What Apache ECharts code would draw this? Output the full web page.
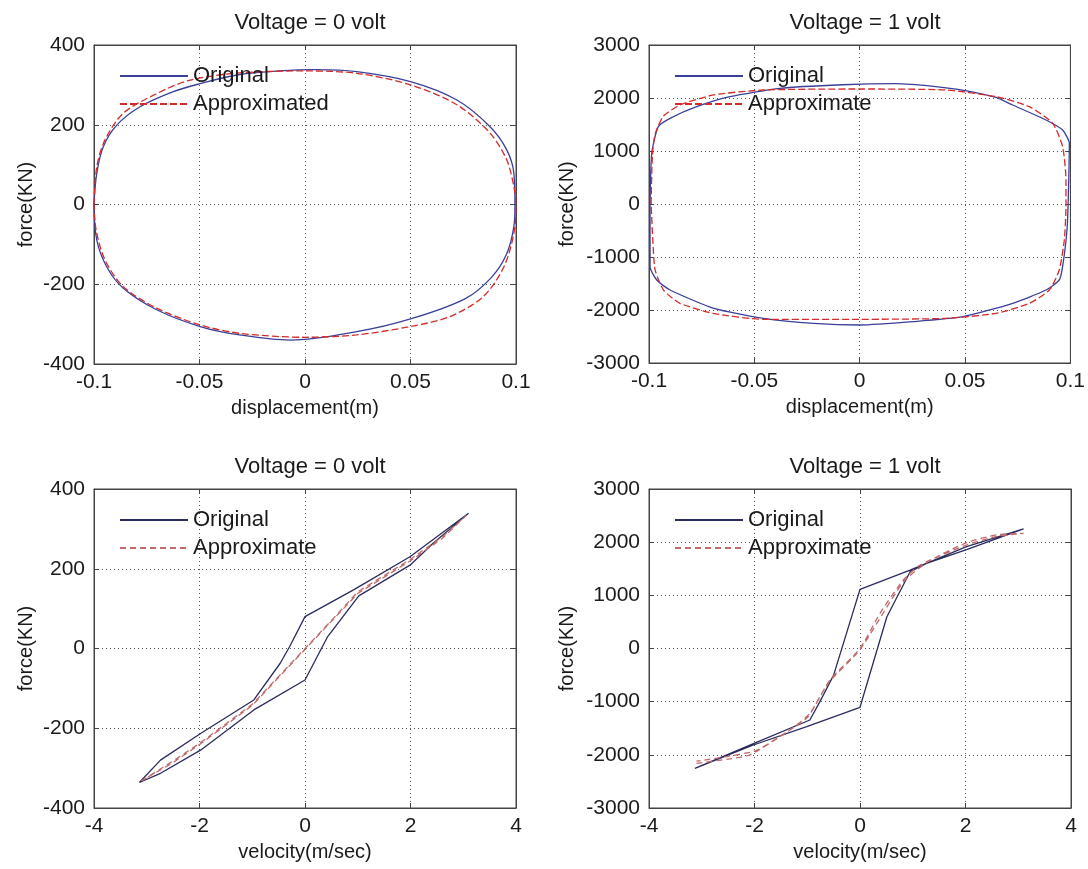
<!DOCTYPE html>
<html>
<head>
<meta charset="utf-8">
<title>Force loops, voltage 0 and 1</title>
<script src="https://cdn.jsdelivr.net/npm/echarts@6/dist/echarts.min.js"></script>
<style>
  html, body { margin: 0; padding: 0; background: #fff; }
  #chart { width: 1088px; height: 869px; }
</style>
</head>
<body>
<div id="chart"></div>
<script>
// force vs displacement, 0 volt  [x (m), force (KN)]
var dispOrig0 = [[-0.1,0],[-0.0987,78],[-0.0956,145],[-0.0892,199],[-0.0782,245],[-0.0624,283],[-0.0497,303],[-0.031,326],[-0.012,335],[0.005,338],[0.0245,333],[0.05,308],[0.072,262],[0.0877,195],[0.0956,137],[0.099,78],[0.0995,-5],[0.099,-55],[0.0955,-125],[0.0885,-182],[0.076,-236],[0.05,-287],[0.0245,-319],[-0.007,-340],[-0.031,-327],[-0.0497,-306],[-0.0703,-264],[-0.0861,-210],[-0.094,-156],[-0.0987,-89],[-0.1,0]];
var dispAppr0 = [[-0.1,0],[-0.0987,95],[-0.0948,162],[-0.0861,229],[-0.0703,278],[-0.0545,312],[-0.031,330],[0,335],[0.0245,329],[0.05,300],[0.072,250],[0.0877,179],[0.0956,112],[0.099,45],[0.1,0],[0.099,-72],[0.0943,-156],[0.0845,-231],[0.0687,-281],[0.05,-306],[0.0245,-327],[0,-333],[-0.031,-323],[-0.0497,-302],[-0.0703,-260],[-0.0861,-206],[-0.0948,-139],[-0.099,-64],[-0.1,0]];

// force vs displacement, 1 volt
var dispOrig1 = [[-0.0995,0],[-0.0987,957],[-0.0956,1459],[-0.09,1617],[-0.0774,1836],[-0.0616,2025],[-0.0379,2183],[-0.008,2250],[0.017,2270],[0.035,2220],[0.05,2140],[0.0647,2010],[0.0726,1868],[0.0884,1585],[0.0963,1396],[0.0995,1145],[0.0992,453],[0.0985,-428],[0.0963,-1183],[0.0947,-1434],[0.0884,-1623],[0.0726,-1874],[0.049,-2126],[0.0253,-2220],[0,-2283],[-0.0218,-2252],[-0.0455,-2157],[-0.0692,-1969],[-0.09,-1623],[-0.0963,-1434],[-0.0995,-1183],[-0.0995,0]];
var dispAppr1 = [[-0.099,0],[-0.0984,906],[-0.0971,1321],[-0.0931,1660],[-0.0853,1868],[-0.0695,2057],[-0.0458,2151],[0,2170],[0.041,2151],[0.0647,2025],[0.0805,1836],[0.0916,1522],[0.0963,1082],[0.0979,453],[0.0979,-50],[0.0971,-679],[0.0947,-1245],[0.09,-1623],[0.0805,-1874],[0.0647,-2063],[0.041,-2157],[0,-2176],[-0.0458,-2176],[-0.0695,-2063],[-0.0853,-1874],[-0.0931,-1623],[-0.0971,-1245],[-0.0982,-679],[-0.099,0]];

// force vs velocity, 0 volt  [v (m/sec), force (KN)]
var veloOrig0 = [[-3.14,-336],[-2.74,-280],[-1.98,-213],[-0.97,-129],[-0.47,-37],[-0.29,5],[0,80],[0.92,147],[1.99,230],[3.1,339],[2.43,264],[1.99,209],[1.02,132],[0.43,30],[0,-79],[-0.97,-154],[-1.98,-255],[-2.74,-313],[-3.14,-336]];
var veloAppr0 = [[-3.1,-332],[-2.5,-282],[-2,-238],[-1,-140],[-0.5,-70],[0,0],[0.5,70],[1,142],[2,224],[2.6,280],[3.05,333],[2.6,276],[2,220],[1,138],[0,-2],[-1,-143],[-2,-241],[-2.5,-286],[-3.1,-332]];

// force vs velocity, 1 volt
var veloOrig1 = [[-3.13,-2253],[-2.02,-1790],[-0.95,-1345],[-0.76,-1000],[-0.5,-500],[0,1113],[0.95,1476],[2.02,1915],[3.1,2250],[2.02,1860],[1.26,1602],[0.95,1445],[0.51,598],[0,-1106],[-1.01,-1471],[-2.02,-1815],[-3.13,-2253]];
var veloAppr1 = [[-3.1,-2159],[-2.5,-2080],[-2.09,-2003],[-1.33,-1533],[-0.95,-1219],[-0.57,-592],[0,0],[0.38,662],[0.82,1288],[1.14,1570],[2.02,1947],[2.6,2110],[3.1,2166],[2.6,2140],[2.02,1990],[1.3,1640],[0.82,1250],[0,-20],[-0.6,-650],[-1,-1300],[-1.5,-1640],[-2,-1930],[-3.1,-2120]];

var titles = ['Voltage = 0 volt', 'Voltage = 1 volt', 'Voltage = 0 volt', 'Voltage = 1 volt'];

var FONT = '"Liberation Sans", Arial, sans-serif';
var INK = '#1a1a1a';

// plot boxes, pixels
var boxes = [
  { left: 94,  top: 45,  width: 422, height: 319 },
  { left: 649, top: 45,  width: 422, height: 318 },
  { left: 94,  top: 489, width: 422, height: 319 },
  { left: 649, top: 489, width: 422, height: 319 }
];

var xRanges = [[-0.1, 0.1, 0.05], [-0.1, 0.1, 0.05], [-4, 4, 2], [-4, 4, 2]];
var yRanges = [[-400, 400, 200], [-3000, 3000, 1000], [-400, 400, 200], [-3000, 3000, 1000]];
var xNames = ['displacement(m)', 'displacement(m)', 'velocity(m/sec)', 'velocity(m/sec)'];
var yGaps = [58, 72, 58, 72];

function fmt(v) { return String(+(+v).toFixed(4)); }

var grids = [], xAxes = [], yAxes = [], titleList = [];
boxes.forEach(function (b, i) {
  grids.push({ left: b.left, top: b.top, width: b.width, height: b.height,
    show: true, borderColor: '#444', borderWidth: 1, backgroundColor: '#fff' });
  titleList.push({ text: titles[i], left: b.left + b.width / 2, top: b.top - 38, textAlign: 'center',
    textStyle: { fontFamily: FONT, fontSize: 22, fontWeight: 'normal', color: INK } });
});

// main axes first (index 0..3), mirror axes on top/right after (4..7)
boxes.forEach(function (b, i) {
  xAxes.push({ type: 'value', gridIndex: i, position: 'bottom',
    min: xRanges[i][0], max: xRanges[i][1], interval: xRanges[i][2],
    name: xNames[i], nameLocation: 'middle', nameGap: 34,
    nameTextStyle: { fontFamily: FONT, fontSize: 20, color: INK },
    axisLine: { show: true, onZero: false, lineStyle: { color: '#444' } },
    axisTick: { show: true, inside: true, length: 5, lineStyle: { color: '#444' } },
    axisLabel: { fontFamily: FONT, fontSize: 21, color: INK, margin: 8, formatter: fmt },
    splitLine: { show: true, lineStyle: { type: [1, 3], color: '#555', width: 1 } }
  });
  yAxes.push({ type: 'value', gridIndex: i, position: 'left',
    min: yRanges[i][0], max: yRanges[i][1], interval: yRanges[i][2],
    name: 'force(KN)', nameLocation: 'middle', nameGap: yGaps[i],
    nameTextStyle: { fontFamily: FONT, fontSize: 20, color: INK },
    axisLine: { show: true, onZero: false, lineStyle: { color: '#444' } },
    axisTick: { show: true, inside: true, length: 5, lineStyle: { color: '#444' } },
    axisLabel: { fontFamily: FONT, fontSize: 21, color: INK, margin: 9, formatter: fmt },
    splitLine: { show: true, lineStyle: { type: [1, 3], color: '#555', width: 1 } }
  });
});
boxes.forEach(function (b, i) {
  xAxes.push({ type: 'value', gridIndex: i, position: 'top',
    min: xRanges[i][0], max: xRanges[i][1], interval: xRanges[i][2],
    axisLine: { show: true, onZero: false, lineStyle: { color: '#444' } },
    axisTick: { show: true, inside: true, length: 5, lineStyle: { color: '#444' } },
    axisLabel: { show: false }, splitLine: { show: false } });
  yAxes.push({ type: 'value', gridIndex: i, position: 'right',
    min: yRanges[i][0], max: yRanges[i][1], interval: yRanges[i][2],
    axisLine: { show: true, onZero: false, lineStyle: { color: '#444' } },
    axisTick: { show: true, inside: true, length: 5, lineStyle: { color: '#444' } },
    axisLabel: { show: false }, splitLine: { show: false } });
});

function curve(name, idx, data, color, dash, smooth, width) {
  return { name: name, type: 'line', xAxisIndex: idx, yAxisIndex: idx, data: data,
    symbol: 'none', showSymbol: false, smooth: smooth, animation: false,
    // transparent item colour keeps the legend icon to a bare line
    itemStyle: { color: 'rgba(0,0,0,0)', borderWidth: 0 },
    lineStyle: { color: color, width: width || 1.3, type: dash } };
}

var series = [
  curve('Original|0', 0, dispOrig0, '#3a3f9a', 'solid', 0.35),
  curve('Approximated|0', 0, dispAppr0, '#d42a2a', [7, 3], 0.3),
  curve('Original|1', 1, dispOrig1, '#3a3f9a', 'solid', 0.2),
  curve('Approximate|1', 1, dispAppr1, '#d42a2a', [7, 3], 0.2),
  curve('Original|2', 2, veloOrig0, '#2a2c5e', 'solid', false),
  curve('Approximate|2', 2, veloAppr0, '#c06a6a', [6, 4], false),
  curve('Original|3', 3, veloOrig1, '#2a2c5e', 'solid', false),
  curve('Approximate|3', 3, veloAppr1, '#c06a6a', [6, 4], 0.2)
];

var legendNames = [
  ['Original|0', 'Approximated|0'], ['Original|1', 'Approximate|1'],
  ['Original|2', 'Approximate|2'], ['Original|3', 'Approximate|3']
];
var legends = boxes.map(function (b, i) {
  return { orient: 'vertical', left: b.left + 20, top: b.top + 15,
    data: legendNames[i], itemWidth: 68, itemHeight: 14, itemGap: 6,
    selectedMode: false, formatter: function (n) { return n.split('|')[0]; },
    textStyle: { fontFamily: FONT, fontSize: 22, color: INK } };
});

var chart = echarts.init(document.getElementById('chart'), null, { renderer: 'canvas' });
chart.setOption({
  backgroundColor: '#fff',
  animation: false,
  title: titleList,
  legend: legends,
  grid: grids,
  xAxis: xAxes,
  yAxis: yAxes,
  series: series
});
</script>
</body>
</html>
